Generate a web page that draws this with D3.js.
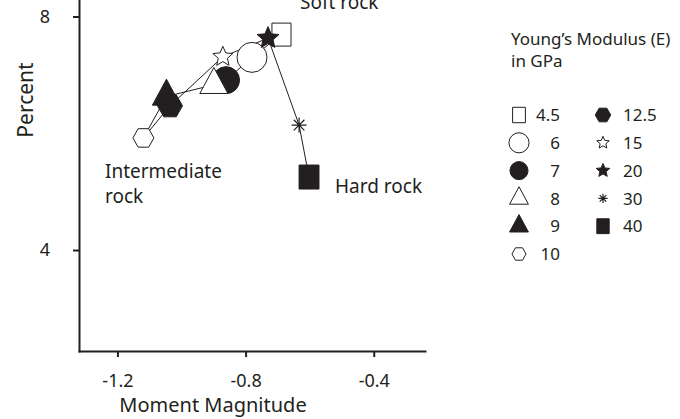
<!DOCTYPE html>
<html>
<head>
<meta charset="utf-8">
<script src="https://cdn.jsdelivr.net/npm/d3@7"></script>
<style>
  body { margin: 0; background: #fff; }
  svg { display: block; font-family: "Noto Sans", "Open Sans", sans-serif; }
  .axis path, .axis line { stroke: #231f20; stroke-width: 2; }
  .axis text { fill: #231f20; font-family: "Noto Sans", sans-serif; }
</style>
</head>
<body>
<svg width="680" height="419"></svg>
<script>
// Young's modulus values (GPa), one point per value
const modulus = ['4.5', '6', '7', '8', '9', '10', '12.5', '15', '20', '30', '40'];
const magnitude = [-0.688, -0.780, -0.861, -0.899, -1.047, -1.119, -1.036, -0.871, -0.730, -0.633, -0.602];
const percent = [7.69, 7.30, 6.91, 6.83, 6.63, 5.92, 6.47, 7.31, 7.63, 6.14, 5.25];

const xTicks = [-1.2, -0.8, -0.4];
const yTicks = [4, 8];

const legendCol1 = ['4.5', '6', '7', '8', '9', '10'];
const legendCol2 = ['12.5', '15', '20', '30', '40'];

const ink = '#231f20';

//Marker style per modulus value: shape, filled, nominal size in px
const markerStyle = {
  '4.5': { shape: 'square', fill: false, d: 23 },
  '6': { shape: 'circle', fill: false, d: 30 },
  '7': { shape: 'circle', fill: true, d: 27 },
  '8': { shape: 'triangle', fill: false, d: 26 },
  '9': { shape: 'triangle', fill: true, d: 26 },
  '10': { shape: 'hexagon', fill: false, d: 21 },
  '12.5': { shape: 'hexagon', fill: true, d: 25 },
  '15': { shape: 'star', fill: false, d: 21 },
  '20': { shape: 'star', fill: true, d: 23 },
  '30': { shape: 'asterisk', fill: false, d: 15 },
  '40': { shape: 'square', fill: true, d: 24 },
};

//Drawing order of markers (later ones on top)
const drawOrder = ['4.5', '6', '15', '7', '8', '12.5', '9', '10', '20', '30', '40'];

//Custom symbol types, size = d*d
const symbolTypes = {
  square: { draw(c, s) { const h = Math.sqrt(s) / 2, w = h * 0.83; c.rect(-w, -h, 2 * w, 2 * h); } },
  circle: { draw(c, s) { const r = Math.sqrt(s) / 2; c.moveTo(r, 0); c.arc(0, 0, r, 0, 2 * Math.PI); } },
  triangle: { draw(c, s) {
    const h = Math.sqrt(s), w = h * 1.08 / 2;
    c.moveTo(0, -2 * h / 3); c.lineTo(w, h / 3); c.lineTo(-w, h / 3); c.closePath();
  } },
  hexagon: { draw(c, s) {
    const w = Math.sqrt(s) / 2, h = w * 0.88;
    c.moveTo(-w, 0); c.lineTo(-w / 2, -h); c.lineTo(w / 2, -h);
    c.lineTo(w, 0); c.lineTo(w / 2, h); c.lineTo(-w / 2, h); c.closePath();
  } },
  star: { draw(c, s) {
    const ro = Math.sqrt(s) / 2, ri = ro * 0.46;
    for (let i = 0; i < 10; i++) {
      const a = -Math.PI / 2 + i * Math.PI / 5, r = i % 2 ? ri : ro;
      if (i === 0) c.moveTo(r * Math.cos(a), r * Math.sin(a));
      else c.lineTo(r * Math.cos(a), r * Math.sin(a));
    }
    c.closePath();
  } },
  asterisk: { draw(c, s) {
    const r = Math.sqrt(s) / 2;
    for (let k = 0; k < 4; k++) {
      const a = k * Math.PI / 4;
      c.moveTo(-r * Math.cos(a), -r * Math.sin(a));
      c.lineTo(r * Math.cos(a), r * Math.sin(a));
    }
  } },
};

function markerPath(key, scale) {
  const st = markerStyle[key];
  const d = st.d * scale;
  return d3.symbol().type(symbolTypes[st.shape]).size(d * d)();
}

function styleMarker(sel) {
  sel.attr('fill', k => markerStyle[k].fill ? ink : (markerStyle[k].shape === 'asterisk' ? 'none' : '#fff'))
    .attr('stroke', ink)
    .attr('stroke-width', k => markerStyle[k].shape === 'asterisk' ? 1.2 : 1);
}

const svg = d3.select('svg');

//Scales
const x = d3.scaleLinear().domain([-1.32, -0.24]).range([79, 425]);
const y = d3.scaleLinear().domain([2.27, 8.3]).range([351, -1]);

//Axes
svg.append('g')
  .attr('class', 'axis')
  .attr('transform', 'translate(0,351)')
  .call(d3.axisBottom(x).tickValues(xTicks).tickSize(6).tickSizeOuter(0).tickPadding(17)
    .tickFormat(d => d.toFixed(1)));

svg.append('g')
  .attr('class', 'axis')
  .attr('transform', 'translate(79,0)')
  .call(d3.axisLeft(y).tickValues(yTicks).tickSize(6).tickSizeOuter(0).tickPadding(23)
    .tickFormat(d => String(d)));

svg.selectAll('.axis .domain').attr('stroke-linecap', 'square');
svg.selectAll('.axis text').attr('font-size', 18);

//Axis titles
svg.append('text')
  .attr('x', 213).attr('y', 412)
  .attr('text-anchor', 'middle')
  .attr('font-size', 20).attr('fill', ink)
  .text('Moment Magnitude');

svg.append('text')
  .attr('transform', 'translate(33,100) rotate(-90)')
  .attr('text-anchor', 'middle')
  .attr('font-size', 21).attr('fill', ink)
  .text('Percent');

//Connecting line in order of modulus
const pts = modulus.map((m, i) => ({ key: m, x: magnitude[i], y: percent[i] }));
const line = d3.line().x(d => x(d.x)).y(d => y(d.y));

svg.append('path')
  .datum(pts)
  .attr('d', line)
  .attr('fill', 'none')
  .attr('stroke', ink)
  .attr('stroke-width', 1);

//Markers
const byKey = {};
pts.forEach(p => byKey[p.key] = p);

svg.append('g')
  .selectAll('path')
  .data(drawOrder)
  .join('path')
    .attr('transform', k => `translate(${x(byKey[k].x)},${y(byKey[k].y)})`)
    .attr('d', k => markerPath(k, 1))
    .call(styleMarker);

//Region labels
const labelFont = 19;
svg.append('text').attr('x', 300).attr('y', 9).attr('font-size', labelFont).attr('fill', ink).text('Soft rock');
svg.append('text').attr('x', 335).attr('y', 193).attr('font-size', labelFont).attr('fill', ink).text('Hard rock');
svg.append('text').attr('x', 105).attr('y', 178).attr('font-size', labelFont).attr('fill', ink).text('Intermediate');
svg.append('text').attr('x', 105).attr('y', 203).attr('font-size', labelFont).attr('fill', ink).text('rock');

//Legend
const legend = svg.append('g');
legend.append('text').attr('x', 511).attr('y', 45).attr('font-size', 17).attr('fill', ink).text('Young\u2019s Modulus (E)');
legend.append('text').attr('x', 511).attr('y', 67).attr('font-size', 17).attr('fill', ink).text('in GPa');

const rowY = d3.scalePoint().domain(d3.range(6)).range([115, 254]);

const col1 = legend.selectAll('g.c1').data(legendCol1).join('g')
  .attr('class', 'c1')
  .attr('transform', (k, i) => `translate(0,${rowY(i)})`);
col1.append('path')
  .attr('transform', 'translate(519,0)')
  .attr('d', k => markerPath(k, 0.67))
  .call(styleMarker);
col1.append('text')
  .attr('x', 560).attr('dy', '0.36em')
  .attr('text-anchor', 'end')
  .attr('font-size', 17).attr('fill', ink)
  .text(k => k);

const col2 = legend.selectAll('g.c2').data(legendCol2).join('g')
  .attr('class', 'c2')
  .attr('transform', (k, i) => `translate(0,${rowY(i)})`);
col2.append('path')
  .attr('transform', 'translate(603,0)')
  .attr('d', k => markerPath(k, 0.62))
  .call(styleMarker);
col2.append('text')
  .attr('x', 623).attr('dy', '0.36em')
  .attr('font-size', 17).attr('fill', ink)
  .text(k => k);
</script>
</body>
</html>
